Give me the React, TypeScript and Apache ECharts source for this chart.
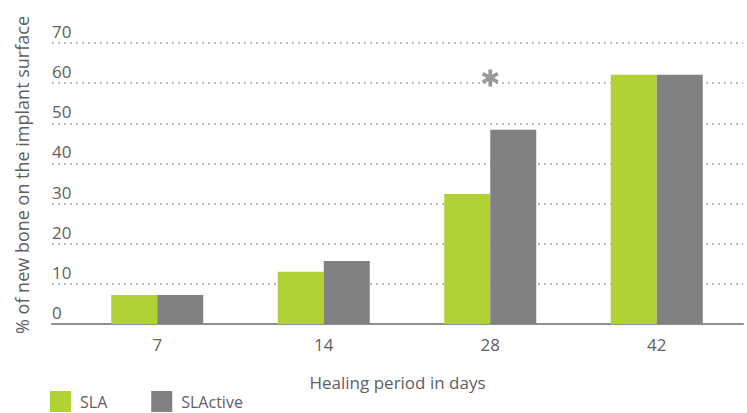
import React, { useEffect, useRef } from "react";
import * as echarts from "echarts";

const categories = ["7", "14", "28", "42"];
const slaValues = [7.2, 13.0, 32.4, 62.1];
const slActiveValues = [7.2, 15.7, 48.4, 62.1];
const significance = ["-", "-", 61.3, "-"];
const yTicks = { min: 0, max: 70, interval: 10 };

const GREEN = "#b1d235";
const GRAY = "#7f8183";
const TEXT = "#5f6062";
const FONT = "Open Sans";

function asteriskPath(): string {
  const hw = 1.7;
  const hl = 8;
  const parts: string[] = [];
  for (const deg of [0, 60, 120]) {
    const a = (deg * Math.PI) / 180;
    const c = Math.cos(a);
    const s = Math.sin(a);
    const pts = [
      [-hw, -hl],
      [hw, -hl],
      [hw, hl],
      [-hw, hl],
    ].map(([x, y]) => [x * c - y * s + 10, x * s + y * c + 10]);
    parts.push(
      "M" + pts.map((p) => p[0].toFixed(2) + " " + p[1].toFixed(2)).join(" L") + " Z"
    );
  }
  return "path://" + parts.join(" ");
}

export default function App() {
  const ref = useRef<HTMLDivElement>(null);
  useEffect(() => {
    if (!ref.current) return;
    const chart = echarts.init(ref.current, undefined, { renderer: "svg" });
    chart.setOption({
      animation: false,
      textStyle: { fontFamily: FONT, color: TEXT },
      grid: [
        { left: 52, right: 4, top: 43, bottom: 89 },
        { left: 74, right: 7, top: 43, bottom: 89 },
      ],
      xAxis: [
        {
          gridIndex: 0,
          type: "value",
          min: 0,
          max: 1,
          axisLabel: { show: false },
          axisTick: { show: false },
          splitLine: { show: false },
          axisLine: { show: true, lineStyle: { color: "#8e8f91", width: 2 } },
          name: "Healing period in days",
          nameLocation: "middle",
          nameGap: 50,
          nameTextStyle: { fontSize: 17, color: TEXT, fontFamily: FONT },
        },
        {
          gridIndex: 1,
          type: "category",
          data: categories,
          axisLine: { show: false },
          axisTick: { show: false },
          axisLabel: { fontSize: 17, color: TEXT, margin: 12, fontFamily: FONT },
        },
      ],
      yAxis: [
        {
          gridIndex: 0,
          type: "value",
          min: yTicks.min,
          max: yTicks.max,
          interval: yTicks.interval,
          axisLine: { show: false },
          axisTick: { show: false },
          axisLabel: {
            inside: true,
            margin: 0,
            align: "left",
            verticalAlign: "bottom",
            padding: [0, 0, 3, 0],
            fontSize: 17,
            color: TEXT,
            fontFamily: FONT,
          },
          splitLine: {
            show: true,
            lineStyle: { color: "#a6a7a9", type: [2, 4], width: 1.5 },
          },
        },
        {
          gridIndex: 1,
          type: "value",
          min: yTicks.min,
          max: yTicks.max,
          interval: yTicks.interval,
          show: false,
          splitLine: { show: false },
        },
      ],
      legend: {
        left: 50,
        top: 391,
        padding: 0,
        itemWidth: 21,
        itemHeight: 21,
        itemGap: 44,
        icon: "rect",
        textStyle: {
          fontSize: 16,
          lineHeight: 18,
          color: TEXT,
          fontFamily: FONT,
          padding: [0, 0, 0, 4],
        },
        data: ["SLA", "SLActive"],
      },
      graphic: [
        {
          type: "text",
          x: 22,
          y: 175,
          rotation: Math.PI / 2,
          style: {
            text: "% of new bone on the implant surface",
            fontSize: 18,
            fontFamily: FONT,
            fill: TEXT,
            align: "center",
            verticalAlign: "middle",
          },
        },
      ],
      series: [
        {
          name: "SLA",
          type: "bar",
          xAxisIndex: 1,
          yAxisIndex: 1,
          data: slaValues,
          barWidth: 46,
          barGap: "0%",
          itemStyle: { color: GREEN },
          z: 1,
        },
        {
          name: "SLActive",
          type: "bar",
          xAxisIndex: 1,
          yAxisIndex: 1,
          data: slActiveValues,
          barWidth: 46,
          barGap: "0%",
          itemStyle: { color: GRAY },
          z: 1,
        },
        {
          name: "sig",
          type: "scatter",
          xAxisIndex: 1,
          yAxisIndex: 1,
          data: significance,
          symbol: asteriskPath(),
          symbolSize: 17,
          itemStyle: { color: GRAY },
          z: 3,
        },
      ],
    });
    return () => chart.dispose();
  }, []);
  return <div ref={ref} style={{ width: 747, height: 413, position: "absolute", left: 0, top: 0 }} />;
}
